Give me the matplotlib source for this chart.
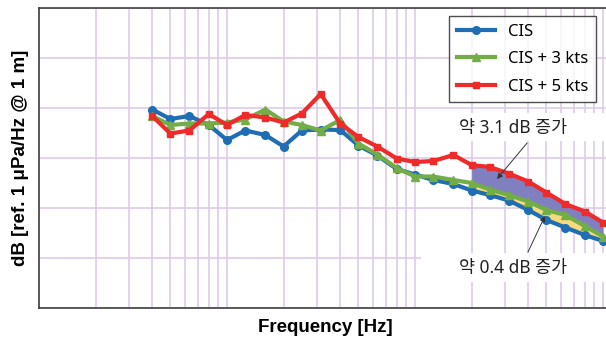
import matplotlib
matplotlib.use('Agg')
import matplotlib.pyplot as plt
from matplotlib.patches import Rectangle

# 1/3 옥타브 대역 중심주파수 [Hz]
freqs = [40, 50, 63, 80, 100, 125, 160, 200, 250, 315, 400, 500, 630,
         800, 1000, 1250, 1600, 2000, 2500, 3150, 4000, 5000, 6300, 8000, 10000]
cis = [99.7, 97.8, 98.4, 96.6, 93.6, 95.5, 94.6, 92.3, 95.5, 95.7, 95.6, 92.5, 90.5,
       87.8, 86.7, 85.6, 84.8, 83.5, 82.6, 81.5, 79.6, 77.6, 76.1, 74.6, 73.4]
cis_3kts = [98.4, 96.6, 96.9, 96.9, 97.1, 97.7, 99.7, 97.3, 96.6, 95.5, 97.6, 92.9, 90.7,
            88.0, 86.3, 86.3, 85.6, 85.0, 83.7, 82.6, 81.3, 79.6, 78.6, 76.4, 74.3]
cis_5kts = [98.4, 94.9, 95.5, 98.8, 96.6, 98.6, 98.1, 97.1, 98.9, 102.8, 96.9, 94.2, 92.3,
            89.9, 89.2, 89.4, 90.6, 88.6, 88.2, 86.9, 85.3, 83.1, 80.8, 79.3, 77.1]
labels = ['CIS', 'CIS + 3 kts', 'CIS + 5 kts']
fill_start = 17  # 2 kHz 부터 음영

plt.rcParams['font.family'] = ['Noto Sans', 'Noto Sans CJK KR', 'DejaVu Sans']

fig = plt.figure(figsize=(6.06, 3.40), dpi=100)
ax = fig.add_axes([39/606, 32/340, 571.8/606, 300/340])

ax.fill_between(freqs[fill_start:], cis_3kts[fill_start:], cis_5kts[fill_start:],
                color='#8080c0', lw=0, zorder=2)
ax.fill_between(freqs[fill_start:], cis[fill_start:], cis_3kts[fill_start:],
                color='#f7d980', lw=0, zorder=2)

ax.plot(freqs, cis, color='#1f6db5', lw=3, marker='o', ms=5.5, label=labels[0], zorder=4)
ax.plot(freqs, cis_3kts, color='#72ad47', lw=3, marker='^', ms=5.5, label=labels[1], zorder=5)
ax.plot(freqs, cis_5kts, color='#ee2a2a', lw=3, marker='s', ms=5, label=labels[2], zorder=6)

ax.set_xscale('log')
ax.set_xlim(10, 11000)
ax.set_ylim(60, 120)
ax.set_yticks(range(60, 121, 10))
ax.grid(which='both', axis='x', color='#dcc8e6', lw=1.1, zorder=0)
ax.grid(which='major', axis='y', color='#dcc8e6', lw=1.1, zorder=0)
ax.set_axisbelow(True)
ax.tick_params(which='both', length=0, labelbottom=False, labelleft=False)
for s in ax.spines.values():
    s.set_color('#404040')
    s.set_linewidth(1.2)

# 주석 글상자 (흰 배경)
ax.add_patch(Rectangle((0.684, 0.557), 0.4, 0.093, transform=ax.transAxes,
                       facecolor='white', edgecolor='none', zorder=1))
ax.add_patch(Rectangle((0.668, 0.087), 0.4, 0.096, transform=ax.transAxes,
                       facecolor='white', edgecolor='none', zorder=1))
ax.text(3320, 96, '약 3.1 dB 증가', ha='center', va='center', fontsize=12.5,
        color='#222222', zorder=7)
ax.text(3320, 68, '약 0.4 dB 증가', ha='center', va='center', fontsize=12.5,
        color='#222222', zorder=7)
ax.annotate('', xy=(2730, 85.8), xytext=(3945, 93.0),
            arrowprops=dict(arrowstyle='-|>', color='#333333', lw=0.7,
                            mutation_scale=8, shrinkA=0, shrinkB=0), zorder=7)
ax.annotate('', xy=(4910, 78.4), xytext=(3990, 71.2),
            arrowprops=dict(arrowstyle='-|>', color='#333333', lw=0.7,
                            mutation_scale=8, shrinkA=0, shrinkB=0), zorder=7)

leg = ax.legend(loc='upper left', bbox_to_anchor=((449-39)/571.8, 1-(16-8)/300),
                fontsize=12, frameon=True, fancybox=False, handlelength=2.3,
                borderpad=0.45, labelspacing=0.7, borderaxespad=0)
leg.get_frame().set_edgecolor('#222222')
leg.get_frame().set_linewidth(1.0)
leg.set_zorder(10)

ax.set_xlabel('Frequency [Hz]', fontsize=13.5, fontweight='bold',
              family=['Liberation Sans', 'DejaVu Sans'], labelpad=8)
ax.set_ylabel('dB [ref. 1 μPa/Hz @ 1 m]', fontsize=13.5, fontweight='bold',
              family=['Liberation Sans', 'DejaVu Sans'], labelpad=7)

fig.savefig('out.png', dpi=100)
